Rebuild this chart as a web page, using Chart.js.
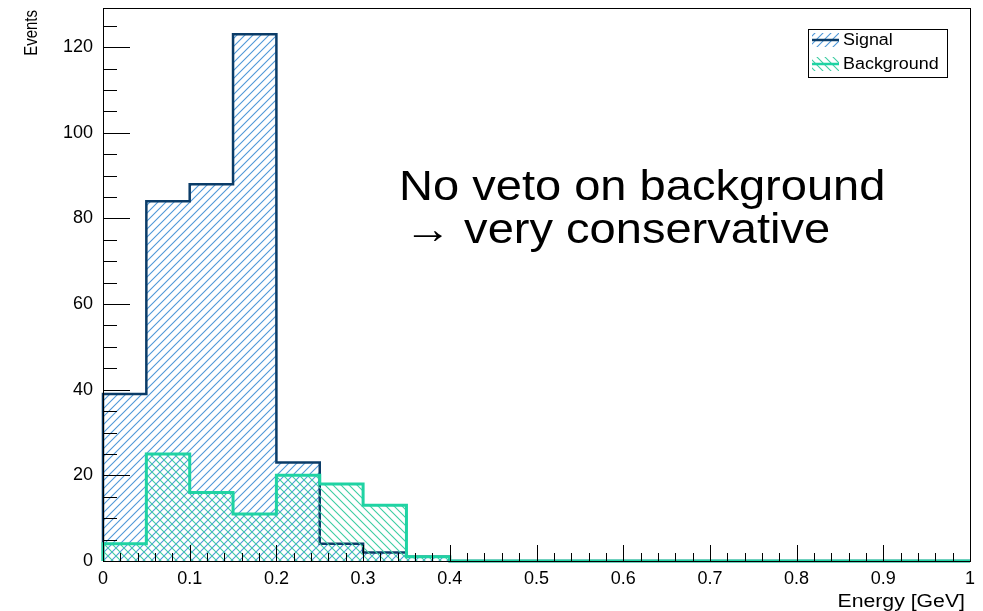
<!DOCTYPE html>
<html>
<head>
<meta charset="utf-8">
<title>Energy spectrum: signal vs background</title>
<script src="https://cdn.jsdelivr.net/npm/chart.js@4/dist/chart.umd.min.js"></script>
<style>
  html, body { margin: 0; padding: 0; background: #ffffff; }
  #wrap { position: relative; width: 983px; height: 611px; }
</style>
</head>
<body>
<div id="wrap"><canvas id="hist"></canvas></div>
<script>
// Histogram binning (GeV): lower edge of each bin, plus the upper edge of the last bin
const binLowEdges = [0.00, 0.05, 0.10, 0.15, 0.20, 0.25, 0.30, 0.35, 0.40, 0.45,
                     0.50, 0.55, 0.60, 0.65, 0.70, 0.75, 0.80, 0.85, 0.90, 0.95];
const binHighEdge = 1.0;

// Event counts per bin
const signalCounts     = [39, 84, 88, 123, 23, 4, 2, 1, 0, 0, 0, 0, 0, 0, 0, 0, 0, 0, 0, 0];
const backgroundCounts = [4, 25, 16, 11, 20, 18, 13, 1, 0, 0, 0, 0, 0, 0, 0, 0, 0, 0, 0, 0];

// Axis tick labels
const xTickLabels = ['0', '0.1', '0.2', '0.3', '0.4', '0.5', '0.6', '0.7', '0.8', '0.9', '1'];
const yTickLabels = ['0', '20', '40', '60', '80', '100', '120'];

const seriesNames = ['Signal', 'Background'];
const noteLines = ['No veto on background', '\u2192 very conservative'];

const FONT = '"Liberation Sans", Arial, Helvetica, sans-serif';
const SIG_LINE = '#0b3c68';
const SIG_HATCH = '#4f98d8';
const BKG_LINE = '#1fd3a3';
const BKG_HATCH = '#3dcda2';

// Diagonal hatch tile: dir = +1 for "/" lines, -1 for "\" lines
function hatch(color, dir) {
  const s = 8;
  const c = document.createElement('canvas');
  c.width = s; c.height = s;
  const g = c.getContext('2d');
  g.strokeStyle = color;
  g.lineWidth = 1.1;
  g.lineCap = 'square';
  g.beginPath();
  if (dir > 0) {
    g.moveTo(-2, s + 2); g.lineTo(s + 2, -2);
    g.moveTo(-2, 2); g.lineTo(2, -2);
    g.moveTo(s - 2, s + 2); g.lineTo(s + 2, s - 2);
  } else {
    g.moveTo(-2, -2); g.lineTo(s + 2, s + 2);
    g.moveTo(s - 2, -2); g.lineTo(s + 2, 2);
    g.moveTo(-2, s - 2); g.lineTo(2, s + 2);
  }
  g.stroke();
  return g.createPattern(c, 'repeat');
}

// Outline of a filled histogram as step points (value held until the next edge)
function stepPoints(counts) {
  const pts = [{ x: binLowEdges[0], y: 0 }];
  binLowEdges.forEach((e, i) => pts.push({ x: e, y: counts[i] }));
  pts.push({ x: binHighEdge, y: counts[counts.length - 1] });
  return pts;
}

// Text widened horizontally around its anchor
function wideText(ctx, text, x, y, sx, align) {
  ctx.save();
  ctx.translate(x, y);
  ctx.scale(sx, 1);
  ctx.textAlign = align;
  ctx.fillText(text, 0, 0);
  ctx.restore();
}

const sigPattern = hatch(SIG_HATCH, 1);
const bkgPattern = hatch(BKG_HATCH, -1);

// Frame, inward ticks, axis titles, legend and note
const decorations = {
  id: 'decorations',
  afterDatasetsDraw(chart) {
    const ctx = chart.ctx;
    const a = chart.chartArea;
    const xs = chart.scales.x, ys = chart.scales.y;
    ctx.save();

    // ticks
    ctx.strokeStyle = '#000';
    ctx.lineWidth = 1;
    ctx.beginPath();
    for (let v = 0; v <= 125.0001; v += 5) {
      const py = Math.round(ys.getPixelForValue(v)) + 0.5;
      const len = (v % 20 === 0) ? 27 : 14;
      ctx.moveTo(a.left, py); ctx.lineTo(a.left + len, py);
    }
    for (let k = 0; k <= 50; k++) {
      const px = Math.round(xs.getPixelForValue(k * 0.02)) + 0.5;
      const len = (k % 5 === 0) ? 16 : 8;
      ctx.moveTo(px, a.bottom); ctx.lineTo(px, a.bottom - len);
    }
    ctx.stroke();

    // frame
    ctx.strokeRect(Math.round(a.left) + 0.5, Math.round(a.top) + 0.5,
                   Math.round(a.right - a.left), Math.round(a.bottom - a.top));

    // axis titles
    ctx.fillStyle = '#000';
    ctx.textBaseline = 'alphabetic';
    ctx.font = '18px ' + FONT;
    wideText(ctx, 'Energy [GeV]', a.right - 5, 607, 1.18, 'right');
    ctx.save();
    ctx.translate(37, a.top + 2);
    ctx.rotate(-Math.PI / 2);
    ctx.font = '15px ' + FONT;
    ctx.scale(1, 1.2);
    ctx.textAlign = 'right';
    ctx.fillText('Events', 0, 0);
    ctx.restore();

    // note
    ctx.font = '42px ' + FONT;
    wideText(ctx, noteLines[0], 399, 200, 1.12, 'left');
    wideText(ctx, noteLines[1], 404, 243, 1.12, 'left');

    // legend
    const lx = 808, ly = 29, lw = 139, lh = 48;
    ctx.fillStyle = '#fff';
    ctx.fillRect(lx, ly, lw, lh);
    ctx.strokeStyle = '#000';
    ctx.lineWidth = 1;
    ctx.strokeRect(lx + 0.5, ly + 0.5, lw, lh);
    const rows = [
      { name: seriesNames[0], fill: sigPattern, line: SIG_LINE, cy: 40 },
      { name: seriesNames[1], fill: bkgPattern, line: BKG_LINE, cy: 64 }
    ];
    rows.forEach(r => {
      ctx.fillStyle = r.fill;
      ctx.fillRect(812, r.cy - 7, 27, 14);
      ctx.strokeStyle = r.line;
      ctx.lineWidth = 2.5;
      ctx.beginPath();
      ctx.moveTo(812, r.cy); ctx.lineTo(839, r.cy);
      ctx.stroke();
      ctx.fillStyle = '#000';
      ctx.font = '16px ' + FONT;
      ctx.textBaseline = 'middle';
      wideText(ctx, r.name, 843, r.cy + 1, 1.12, 'left');
    });
    ctx.restore();
  }
};

new Chart(document.getElementById('hist'), {
  type: 'line',
  data: {
    datasets: [
      {
        label: seriesNames[0],
        data: stepPoints(signalCounts),
        stepped: 'before',
        borderColor: SIG_LINE,
        borderWidth: 2.5,
        backgroundColor: sigPattern,
        fill: 'origin',
        pointRadius: 0,
        order: 2,
        clip: 6
      },
      {
        label: seriesNames[1],
        data: stepPoints(backgroundCounts),
        stepped: 'before',
        borderColor: BKG_LINE,
        borderWidth: 3,
        backgroundColor: bkgPattern,
        fill: 'origin',
        pointRadius: 0,
        order: 1,
        clip: 6
      }
    ]
  },
  options: {
    responsive: true,
    maintainAspectRatio: false,
    animation: false,
    layout: { padding: { top: 8, right: 13, left: 0, bottom: 0 } },
    plugins: {
      legend: { display: false },
      tooltip: { enabled: false }
    },
    scales: {
      x: {
        type: 'linear',
        min: 0,
        max: binHighEdge,
        afterFit: s => { s.height = 50; s.paddingLeft = 0; s.paddingRight = 0; },
        grid: { display: false, drawTicks: false },
        border: { display: false },
        ticks: {
          stepSize: 0.1,
          includeBounds: false,
          autoSkip: false,
          maxRotation: 0,
          padding: 7,
          color: '#000',
          font: { family: FONT, size: 18 },
          callback: (v) => xTickLabels[Math.round(v * 10)]
        }
      },
      y: {
        type: 'linear',
        min: 0,
        max: 129.15,
        afterFit: s => { s.width = 103; s.paddingTop = 0; s.paddingBottom = 0; },
        grid: { display: false, drawTicks: false },
        border: { display: false },
        ticks: {
          stepSize: 20,
          includeBounds: false,
          autoSkip: false,
          padding: 10,
          color: '#000',
          font: { family: FONT, size: 18 },
          callback: (v) => yTickLabels[Math.round(v / 20)]
        }
      }
    }
  },
  plugins: [decorations]
});
</script>
</body>
</html>
